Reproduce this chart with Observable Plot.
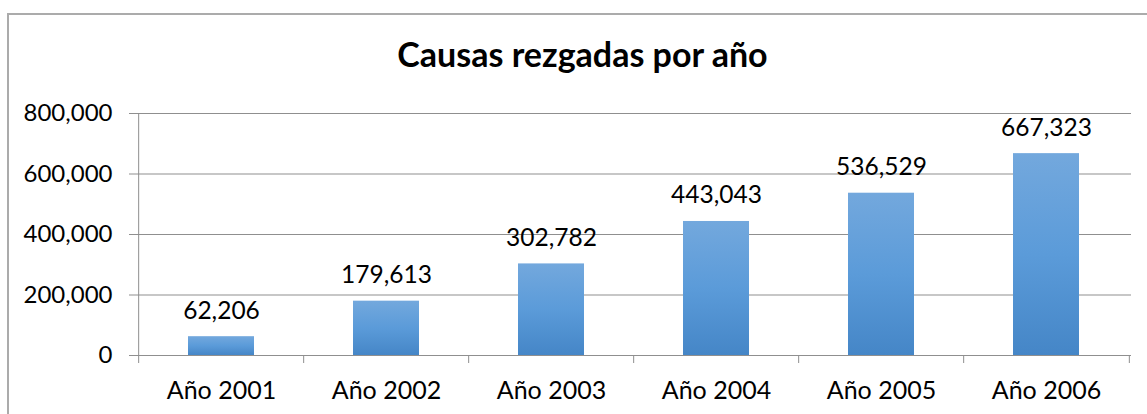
<!DOCTYPE html>
<html><head><meta charset="utf-8">
<script src="https://cdn.jsdelivr.net/npm/d3@7"></script>
<script src="https://cdn.jsdelivr.net/npm/@observablehq/plot@0.6"></script>
<style>
body{margin:0;background:#fff;font-family:Lato,sans-serif;}
#wrap{position:relative;width:1147px;height:414px;overflow:hidden;}
#border{position:absolute;left:7px;top:13px;width:1200px;height:500px;border-left:2px solid #ababab;border-top:2px solid #ababab;}
#title{position:absolute;left:0;width:1165px;top:34px;text-align:center;font-weight:bold;font-size:34px;line-height:1.2;font-family:Lato,sans-serif;z-index:2;}
#chart{position:absolute;left:0;top:0;z-index:1;}
</style></head><body>
<div id="wrap"><div id="border"></div><div id="title">Causas rezgadas por año</div><div id="chart"></div></div>
<script>
const categories = ["Año 2001","Año 2002","Año 2003","Año 2004","Año 2005","Año 2006"];
const values = [62206,179613,302782,443043,536529,667323];
const yTicks = [0,200000,400000,600000,800000];

const W = 1147, H = 414;
const marginLeft = 137, marginRight = 16, marginTop = 113, marginBottom = 59;
const step = (W - marginLeft - marginRight) / categories.length;
const data = categories.map((c, i) => ({c, v: values[i]}));
const fmt = d3.format(",");
const gridColor = "#8f8f8f";

const plot = Plot.plot({
  width: W, height: H, marginLeft, marginRight, marginTop, marginBottom,
  style: {fontFamily: "Lato, sans-serif", fontSize: "24px", color: "#000", background: "transparent", overflow: "visible"},
  x: {domain: categories, paddingInner: 0.6, paddingOuter: 0.3, label: null},
  y: {domain: [yTicks[0], yTicks[yTicks.length - 1]], label: null},
  marks: [
    Plot.gridY(yTicks, {stroke: gridColor, strokeOpacity: 1}),
    Plot.ruleY([0], {stroke: gridColor}),
    Plot.axisY(yTicks, {tickFormat: fmt, tickSize: 8, tickPadding: 17, stroke: gridColor, fill: "#000", fontSize: 24, label: null}),
    Plot.axisX({tickSize: 0, tickPadding: 26, fill: "#000", fontSize: 25, label: null}),
    Plot.ruleX(categories, {x: d => d, y1: d => d === categories[0] ? yTicks[yTicks.length - 1] : 0, y2: 0, dx: -step / 2, insetBottom: -8, stroke: gridColor}),
    Plot.ruleX(categories.slice(-1), {x: d => d, y1: 0, y2: 0, dx: step / 2, insetBottom: -8, stroke: gridColor}),
    Plot.barY(data, {x: "c", y: "v", fill: "url(#barGrad)"}),
    Plot.text(data, {x: "c", y: "v", text: d => fmt(d.v), lineAnchor: "bottom", dy: -18, fontSize: 24.5, fill: "#000"})
  ]
});

const ns = "http://www.w3.org/2000/svg";
const defs = document.createElementNS(ns, "defs");
const grad = document.createElementNS(ns, "linearGradient");
grad.setAttribute("id", "barGrad");
grad.setAttribute("x1", "0"); grad.setAttribute("y1", "0");
grad.setAttribute("x2", "0"); grad.setAttribute("y2", "1");
[["0%", "#73a8dd"], ["50%", "#5b9bd9"], ["100%", "#4586c7"]].forEach(([o, c]) => {
  const s = document.createElementNS(ns, "stop");
  s.setAttribute("offset", o); s.setAttribute("stop-color", c);
  grad.appendChild(s);
});
defs.appendChild(grad);
plot.insertBefore(defs, plot.firstChild);
document.getElementById("chart").appendChild(plot);
</script>
</body></html>
